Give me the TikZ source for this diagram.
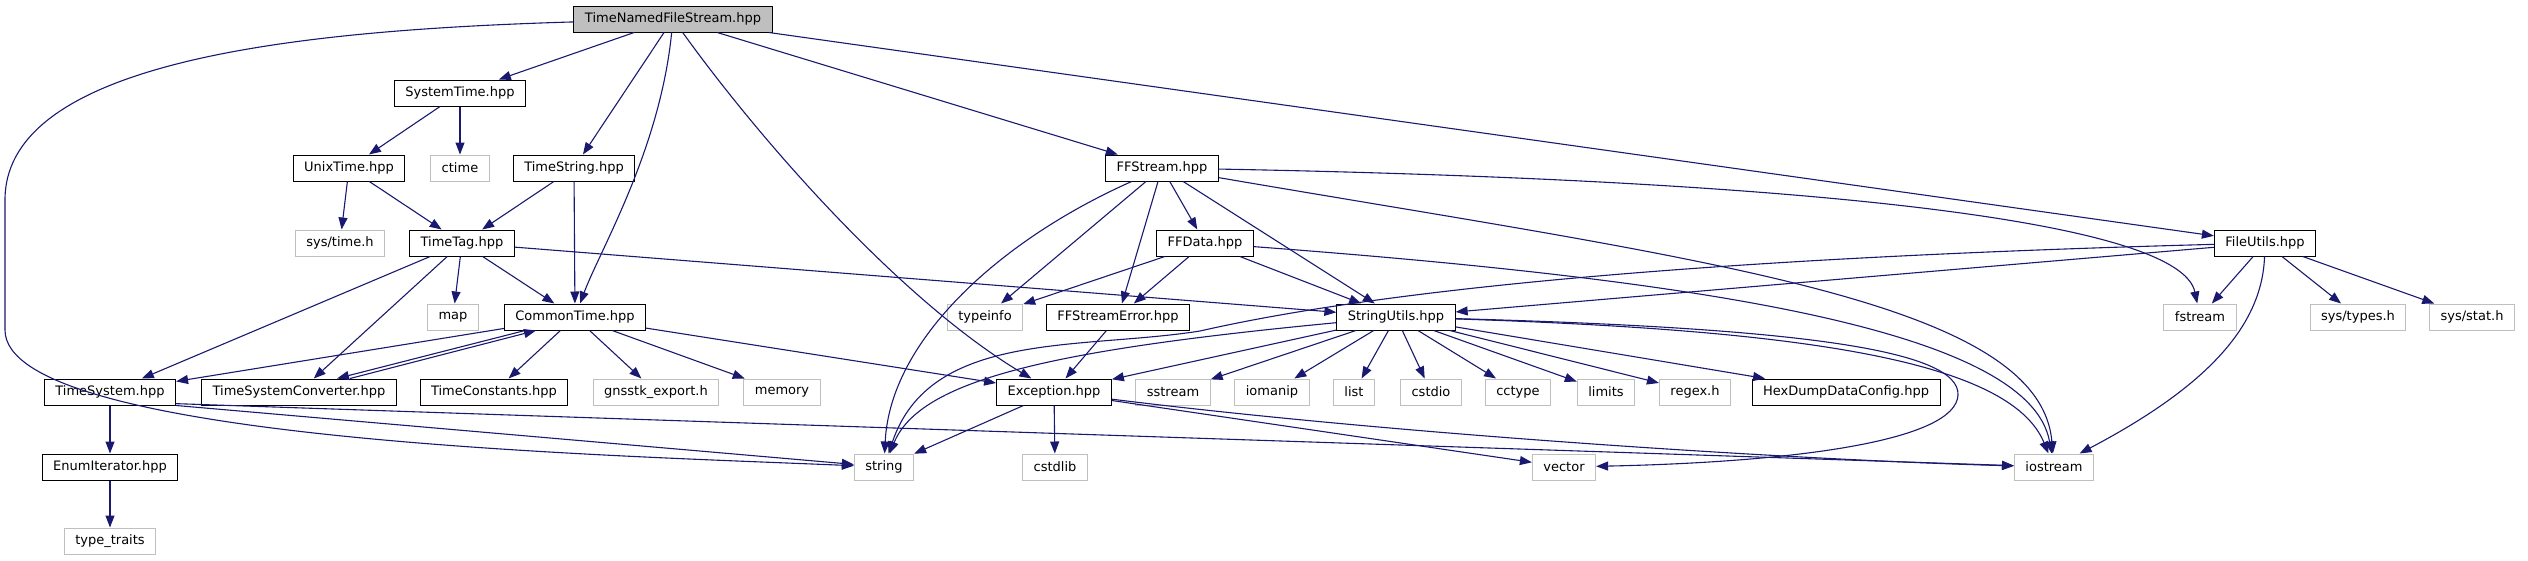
\documentclass[tikz,border=0pt]{standalone}
\usepackage{fontspec}
\setmainfont{DejaVu Sans}
\usepackage{xcolor}
\usetikzlibrary{arrows.meta}
\definecolor{edgeblue}{HTML}{191970}
\definecolor{sysgray}{HTML}{BFBFBF}
\tikzset{
  file/.style={draw=black, fill=white, line width=1pt, inner xsep=11pt, inner ysep=0pt,
    minimum height=26pt, font=\fontsize{13pt}{15pt}\selectfont},
  sysfile/.style={file, draw=sysgray},
  rootfile/.style={file, fill=sysgray},
  dep/.style={draw=edgeblue, line width=1.1pt, -{Triangle[length=12pt,width=9pt]}}
}
\begin{document}
\begin{tikzpicture}[x=1pt,y=-1pt]
  \useasboundingbox (0,0) rectangle (2528,560);
  % files
  \node[rootfile] (tnfs) at (673,19) {TimeNamedFileStream.hpp};
  \node[file] (systime) at (460,93) {SystemTime.hpp};
  \node[file] (unixtime) at (349,168) {UnixTime.hpp};
  \node[sysfile] (ctime) at (460,168) {ctime};
  \node[file] (timestr) at (574,168) {TimeString.hpp};
  \node[file] (ffstream) at (1162,168) {FFStream.hpp};
  \node[sysfile] (systimeh) at (340,243) {sys/time.h};
  \node[file] (timetag) at (462,243) {TimeTag.hpp};
  \node[file] (ffdata) at (1205,243) {FFData.hpp};
  \node[file] (fileutils) at (2265,243) {FileUtils.hpp};
  \node[sysfile] (map) at (453,317) {map};
  \node[file] (commontime) at (575,317) {CommonTime.hpp};
  \node[sysfile] (typeinfo) at (985,317) {typeinfo};
  \node[file] (fferror) at (1118,317) {FFStreamError.hpp};
  \node[file] (strutils) at (1396,317) {StringUtils.hpp};
  \node[sysfile] (fstream) at (2200,317) {fstream};
  \node[sysfile] (systypes) at (2358,317) {sys/types.h};
  \node[sysfile] (sysstat) at (2472,317) {sys/stat.h};
  \node[file] (timesys) at (110,392) {TimeSystem.hpp};
  \node[file] (tsconv) at (299,392) {TimeSystemConverter.hpp};
  \node[file] (timeconst) at (494,392) {TimeConstants.hpp};
  \node[sysfile] (gnsstk) at (656,392) {gnsstk\_export.h};
  \node[sysfile] (memory) at (782,392) {memory};
  \node[file] (exception) at (1054,392) {Exception.hpp};
  \node[sysfile] (sstream) at (1173,392) {sstream};
  \node[sysfile] (iomanip) at (1272,392) {iomanip};
  \node[sysfile] (list) at (1354,392) {list};
  \node[sysfile] (cstdio) at (1431,392) {cstdio};
  \node[sysfile] (cctype) at (1518,392) {cctype};
  \node[sysfile] (limits) at (1606,392) {limits};
  \node[sysfile] (regexh) at (1695,392) {regex.h};
  \node[file] (hexdump) at (1846,392) {HexDumpDataConfig.hpp};
  \node[file] (enumiter) at (110,467) {EnumIterator.hpp};
  \node[sysfile] (string) at (884,467) {string};
  \node[sysfile] (cstdlib) at (1055,467) {cstdlib};
  \node[sysfile] (vector) at (1564,467) {vector};
  \node[sysfile] (iostream) at (2054,467) {iostream};
  \node[sysfile] (typetraits) at (110,541) {type\_traits};
  % includes
  \draw[dep] (tnfs) .. controls (300,30) and (5,60) .. (5,200) -- (5,330) .. controls (5,440) and (600,455) .. (string);
  \draw[dep] (tnfs) -- (systime);
  \draw[dep] (tnfs) -- (timestr);
  \draw[dep] (tnfs) .. controls (660,150) and (600,250) .. (commontime);
  \draw[dep] (tnfs) .. controls (760,140) and (900,300) .. (exception);
  \draw[dep] (tnfs) -- (ffstream);
  \draw[dep] (tnfs) -- (fileutils);
  \draw[dep] (systime) -- (unixtime);
  \draw[dep] (systime) -- (ctime);
  \draw[dep] (unixtime) -- (systimeh);
  \draw[dep] (unixtime) -- (timetag);
  \draw[dep] (timestr) -- (timetag);
  \draw[dep] (timestr) -- (commontime);
  \draw[dep] (timetag) -- (map);
  \draw[dep] (timetag) -- (commontime);
  \draw[dep] (timetag) -- (timesys);
  \draw[dep] (timetag) -- (tsconv);
  \draw[dep] (timetag) -- (strutils);
  \draw[dep] (commontime) -- (timesys);
  \draw[dep] ([xshift=-50pt]commontime.south) -- ([xshift=38pt]tsconv.north);
  \draw[dep] ([xshift=51pt]tsconv.north) -- ([xshift=-39pt]commontime.south);
  \draw[dep] (commontime) -- (timeconst);
  \draw[dep] (commontime) -- (gnsstk);
  \draw[dep] (commontime) -- (memory);
  \draw[dep] (commontime) -- (exception);
  \draw[dep] (timesys) -- (enumiter);
  \draw[dep] (timesys.south east) -- (string);
  \draw[dep] (timesys.-10) .. controls (800,425) and (1700,455) .. (iostream);
  \draw[dep] (enumiter) -- (typetraits);
  \draw[dep] (ffstream) .. controls (1000,240) and (890,340) .. (string);
  \draw[dep] (ffstream) -- (typeinfo);
  \draw[dep] (ffstream) -- (fferror);
  \draw[dep] (ffstream) -- (ffdata);
  \draw[dep] (ffstream) -- (strutils);
  \draw[dep] (ffstream) .. controls (1700,260) and (2040,300) .. (iostream);
  \draw[dep] (ffstream) .. controls (1800,180) and (2180,220) .. (fstream);
  \draw[dep] (ffdata) -- (typeinfo);
  \draw[dep] (ffdata) -- (fferror);
  \draw[dep] (ffdata) -- (strutils);
  \draw[dep] (ffdata) .. controls (1700,280) and (2030,330) .. (iostream);
  \draw[dep] (fferror) -- (exception);
  \draw[dep] (fileutils) .. controls (1700,258) and (1380,290) .. (1200,331) .. controls (1080,350) and (930,330) .. (string);
  \draw[dep] (fileutils) -- (strutils);
  \draw[dep] (fileutils) -- (fstream);
  \draw[dep] (fileutils) -- (systypes);
  \draw[dep] (fileutils) -- (sysstat);
  \draw[dep] (fileutils) .. controls (2262,330) and (2200,390) .. (iostream);
  \draw[dep] (strutils) .. controls (1050,350) and (920,380) .. (string);
  \draw[dep] (strutils) -- (exception);
  \draw[dep] (strutils) -- (sstream);
  \draw[dep] (strutils) -- (iomanip);
  \draw[dep] (strutils) -- (list);
  \draw[dep] (strutils) -- (cstdio);
  \draw[dep] (strutils) -- (cctype);
  \draw[dep] (strutils) -- (limits);
  \draw[dep] (strutils) -- (regexh);
  \draw[dep] (strutils) -- (hexdump);
  \draw[dep] (strutils) .. controls (1800,330) and (2010,360) .. (iostream);
  \draw[dep] (strutils) .. controls (1800,328) and (1960,350) .. (1958,395) .. controls (1956,440) and (1800,462) .. (vector);
  \draw[dep] (exception) -- (string);
  \draw[dep] (exception) -- (cstdlib);
  \draw[dep] (exception) -- (vector);
  \draw[dep] (exception) .. controls (1400,435) and (1800,460) .. (iostream);
\end{tikzpicture}
\end{document}
